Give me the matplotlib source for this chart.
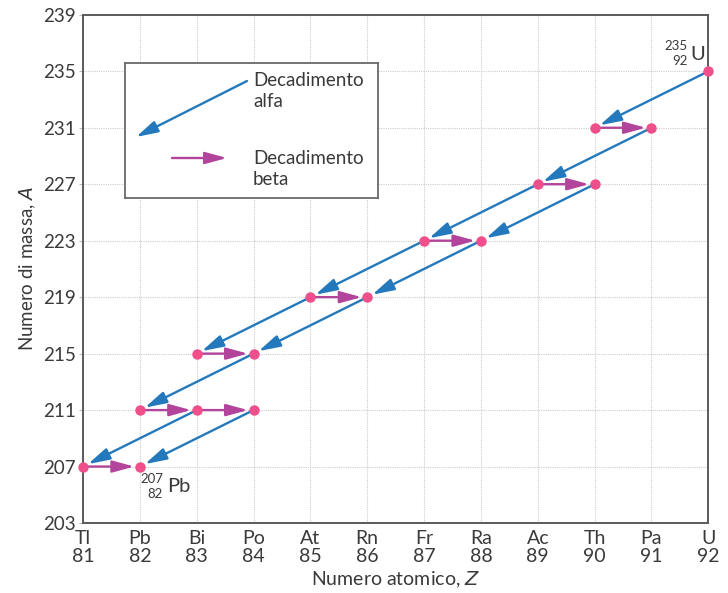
import matplotlib.pyplot as plt

plt.rcParams['font.family'] = ['Lato', 'DejaVu Sans']

# atomic numbers and element symbols on the x axis
z_values = [81, 82, 83, 84, 85, 86, 87, 88, 89, 90, 91, 92]
symbols = ['Tl', 'Pb', 'Bi', 'Po', 'At', 'Rn', 'Fr', 'Ra', 'Ac', 'Th', 'Pa', 'U']
a_ticks = [203, 207, 211, 215, 219, 223, 227, 231, 235, 239]

# nuclides of the U-235 chain (Z, A)
nuclide_z = [92, 90, 91, 89, 90, 87, 88, 85, 86, 83, 84, 82, 83, 84, 81, 82]
nuclide_a = [235, 231, 231, 227, 227, 223, 223, 219, 219, 215, 215, 211, 211, 211, 207, 207]

# decays: (Z from, A from) -> (Z to, A to)
alpha_decays = [((92, 235), (90, 231)), ((91, 231), (89, 227)), ((90, 227), (88, 223)),
                ((89, 227), (87, 223)), ((88, 223), (86, 219)), ((87, 223), (85, 219)),
                ((86, 219), (84, 215)), ((85, 219), (83, 215)), ((84, 215), (82, 211)),
                ((83, 211), (81, 207)), ((84, 211), (82, 207))]
beta_decays = [((90, 231), (91, 231)), ((89, 227), (90, 227)), ((87, 223), (88, 223)),
               ((85, 219), (86, 219)), ((83, 215), (84, 215)), ((82, 211), (83, 211)),
               ((83, 211), (84, 211)), ((81, 207), (82, 207))]

blue = '#2479bd'
magenta = '#b2459b'
pink = '#ef4f8b'
text_col = '#3a3a3a'
head = '-|>,head_length=1.1,head_width=0.3'

fig = plt.figure(figsize=(7.28, 5.93), dpi=100)
ax = fig.add_axes([0.114, 0.118, 0.859, 0.857])
ax.set_xlim(81, 92)
ax.set_ylim(203, 239)

ax.set_xticks(z_values)
ax.set_xticklabels([f'{s}\n{z}' for s, z in zip(symbols, z_values)], fontsize=14, color=text_col,
                   linespacing=1.1)
ax.set_yticks(a_ticks)
ax.set_yticklabels([str(a) for a in a_ticks], fontsize=13.5, color=text_col)
ax.tick_params(axis='x', length=0, pad=5)
ax.tick_params(axis='y', length=3, color='#bbbbbb', pad=2)
ax.grid(True, color='#cccccc', linestyle=(0, (1, 1)), linewidth=0.8)
ax.set_axisbelow(True)
for sp in ax.spines.values():
    sp.set_color('#5a5a5a')
    sp.set_linewidth(1.4)

ax.set_xlabel('Numero atomico, $\\mathit{Z}$', fontsize=14, color=text_col, labelpad=3)
ax.set_ylabel('Numero di massa, $\\mathit{A}$', fontsize=13.5, color=text_col, labelpad=4)

for (z0, a0), (z1, a1) in alpha_decays:
    ax.annotate('', xy=(z1, a1), xytext=(z0, a0),
                arrowprops=dict(arrowstyle=head, color=blue,
                                lw=1.7, shrinkA=0, shrinkB=4, mutation_scale=12))
for (z0, a0), (z1, a1) in beta_decays:
    ax.annotate('', xy=(z1, a1), xytext=(z0, a0),
                arrowprops=dict(arrowstyle=head, color=magenta,
                                lw=1.7, shrinkA=0, shrinkB=4, mutation_scale=12))

ax.plot(nuclide_z, nuclide_a, 'o', color=pink, markersize=6.5, clip_on=False, zorder=5)

# isotope labels
ax.annotate('235', xy=(92, 235), xytext=(-21, 25), textcoords='offset pixels', ha='right', va='center',
            fontsize=9.5, color=text_col)
ax.annotate('92', xy=(92, 235), xytext=(-21, 10), textcoords='offset pixels', ha='right', va='center',
            fontsize=9.5, color=text_col)
ax.annotate('U', xy=(92, 235), xytext=(-18, 17), textcoords='offset pixels', ha='left', va='center',
            fontsize=14.5, color=text_col)
ax.annotate('207', xy=(82, 207), xytext=(23, -12), textcoords='offset pixels', ha='right', va='center',
            fontsize=9.5, color=text_col)
ax.annotate('82', xy=(82, 207), xytext=(23, -27), textcoords='offset pixels', ha='right', va='center',
            fontsize=9.5, color=text_col)
ax.annotate('Pb', xy=(82, 207), xytext=(27, -20), textcoords='offset pixels', ha='left', va='center',
            fontsize=14.5, color=text_col)

# legend box
lg = fig.add_axes([125 / 728, 1 - 198 / 593, 253 / 728, 135 / 593])
lg.set_xlim(0, 253)
lg.set_ylim(135, 0)
lg.set_xticks([])
lg.set_yticks([])
lg.set_facecolor('white')
for sp in lg.spines.values():
    sp.set_color('#6a6a6a')
    sp.set_linewidth(1.3)
lg.annotate('', xy=(11, 74), xytext=(122, 18),
            arrowprops=dict(arrowstyle=head, color=blue,
                            lw=1.7, shrinkA=0, shrinkB=0, mutation_scale=12))
lg.annotate('', xy=(102, 95), xytext=(47, 95),
            arrowprops=dict(arrowstyle=head, color=magenta,
                            lw=1.7, shrinkA=0, shrinkB=0, mutation_scale=12))
lg.text(128, 28, 'Decadimento\nalfa', fontsize=13.5, color=text_col, va='center', ha='left',
        linespacing=1.3)
lg.text(128, 106, 'Decadimento\nbeta', fontsize=13.5, color=text_col, va='center', ha='left',
        linespacing=1.3)

fig.savefig('out.png', dpi=100)
